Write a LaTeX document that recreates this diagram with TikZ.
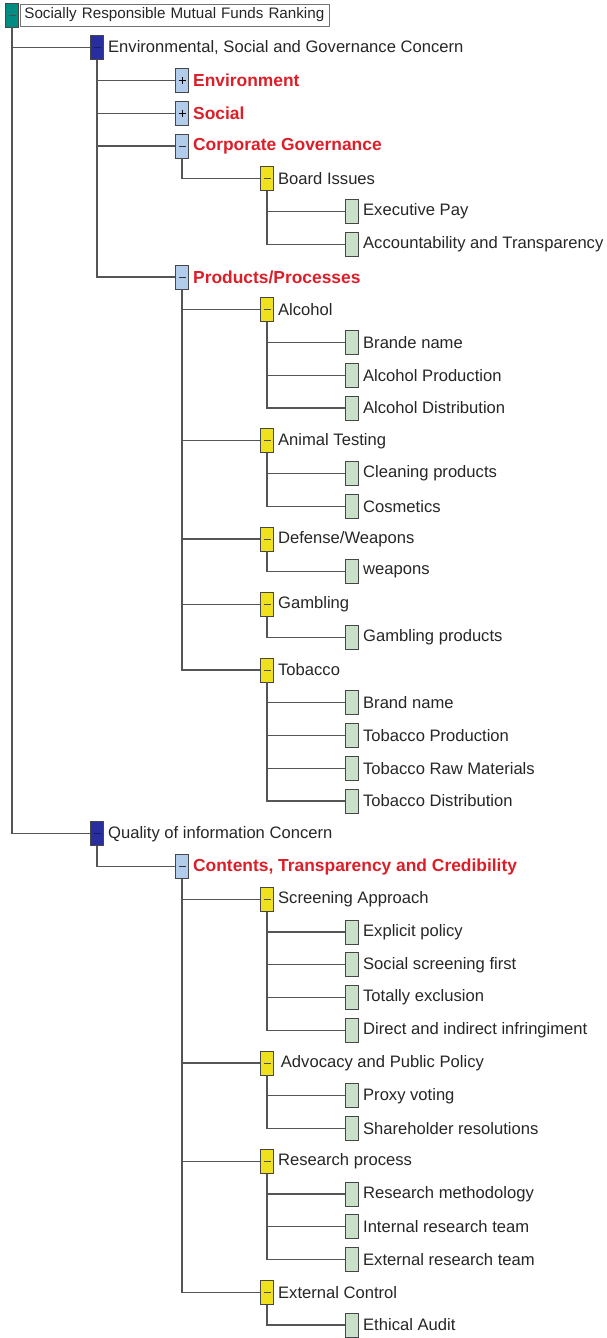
\documentclass[tikz,border=0pt]{standalone}
\usepackage{fontspec}
\setmainfont{Liberation Sans}
\definecolor{teal1}{RGB}{0,140,130}
\definecolor{navy1}{RGB}{40,45,160}
\definecolor{lblue}{RGB}{178,204,235}
\definecolor{yel}{RGB}{240,225,30}
\definecolor{grn}{RGB}{200,225,200}
\definecolor{redt}{RGB}{220,30,40}
\definecolor{lnc}{RGB}{85,85,85}
\definecolor{bdr}{RGB}{70,70,70}
\begin{document}
\begin{tikzpicture}[x=1pt,y=-1pt,
  bx/.style={draw=bdr,line width=0.9pt,minimum width=13pt,minimum height=24pt,inner sep=0pt},
  minus/.style={path picture={\draw[line width=0.8pt,#1]([xshift=-3.5pt]path picture bounding box.center)--([xshift=3.5pt]path picture bounding box.center);}},
  plus/.style={path picture={\draw[line width=0.8pt,black]([xshift=-3.5pt]path picture bounding box.center)--([xshift=3.5pt]path picture bounding box.center)
      ([yshift=-3.5pt]path picture bounding box.center)--([yshift=3.5pt]path picture bounding box.center);}},
  tealbox/.style={bx,fill=teal1,minus=black!70},
  navybox/.style={bx,fill=navy1,minus=navy1!60!black},
  bluebox/.style={bx,fill=lblue,minus=black!80},
  blueplus/.style={bx,fill=lblue,plus},
  yelbox/.style={bx,fill=yel,minus=black!70},
  grnbox/.style={bx,fill=grn},
  lbl/.style={inner sep=0pt,anchor=west,font=\fontsize{16.6}{19}\selectfont,text=black!85},
  redlbl/.style={lbl,font=\fontsize{17.4}{20}\selectfont\bfseries,text=redt},
  conn/.style={draw=lnc,line width=1.4pt}]
\useasboundingbox (0,0) rectangle (607,1338);
\newcommand\tn[6]{%
  \node[#4] (#1) at ({12+85*#2},{15+32.75*#3}) {};
  \node[#5] (#1t) at ([xshift=4pt]#1.east) {#6};}
% root
\node[tealbox] (r) at (12,15) {};
\node[draw=black!55,line width=0.9pt,anchor=west,minimum height=22pt,text width=301pt,inner xsep=4pt,inner ysep=0pt,align=left,font=\fontsize{15.2}{18}\selectfont,text=black!85] (rt) at ([xshift=1pt]r.east) {Socially Responsible Mutual Funds Ranking};
\tn{a}{1}{1}{navybox}{lbl}{Environmental, Social and Governance Concern}
\tn{a1}{2}{2}{blueplus}{redlbl}{Environment}
\tn{a2}{2}{3}{blueplus}{redlbl}{Social}
\tn{a3}{2}{4}{bluebox}{redlbl}{Corporate Governance}
\tn{a31}{3}{5}{yelbox}{lbl}{Board Issues}
\tn{a311}{4}{6}{grnbox}{lbl}{Executive Pay}
\tn{a312}{4}{7}{grnbox}{lbl}{Accountability and Transparency}
\tn{a4}{2}{8}{bluebox}{redlbl}{Products/Processes}
\tn{a41}{3}{9}{yelbox}{lbl}{Alcohol}
\tn{a411}{4}{10}{grnbox}{lbl}{Brande name}
\tn{a412}{4}{11}{grnbox}{lbl}{Alcohol Production}
\tn{a413}{4}{12}{grnbox}{lbl}{Alcohol Distribution}
\tn{a42}{3}{13}{yelbox}{lbl}{Animal Testing}
\tn{a421}{4}{14}{grnbox}{lbl}{Cleaning products}
\tn{a422}{4}{15}{grnbox}{lbl}{Cosmetics}
\tn{a43}{3}{16}{yelbox}{lbl}{Defense/Weapons}
\tn{a431}{4}{17}{grnbox}{lbl}{weapons}
\tn{a44}{3}{18}{yelbox}{lbl}{Gambling}
\tn{a441}{4}{19}{grnbox}{lbl}{Gambling products}
\tn{a45}{3}{20}{yelbox}{lbl}{Tobacco}
\tn{a451}{4}{21}{grnbox}{lbl}{Brand name}
\tn{a452}{4}{22}{grnbox}{lbl}{Tobacco Production}
\tn{a453}{4}{23}{grnbox}{lbl}{Tobacco Raw Materials}
\tn{a454}{4}{24}{grnbox}{lbl}{Tobacco Distribution}
\tn{b}{1}{25}{navybox}{lbl}{Quality of information Concern}
\tn{b1}{2}{26}{bluebox}{redlbl}{Contents, Transparency and Credibility}
\tn{b11}{3}{27}{yelbox}{lbl}{Screening Approach}
\tn{b111}{4}{28}{grnbox}{lbl}{Explicit policy}
\tn{b112}{4}{29}{grnbox}{lbl}{Social screening first}
\tn{b113}{4}{30}{grnbox}{lbl}{Totally exclusion}
\tn{b114}{4}{31}{grnbox}{lbl}{Direct and indirect infringiment}
\tn{b12}{3}{32}{yelbox}{lbl}{\,Advocacy and Public Policy}
\tn{b121}{4}{33}{grnbox}{lbl}{Proxy voting}
\tn{b122}{4}{34}{grnbox}{lbl}{Shareholder resolutions}
\tn{b13}{3}{35}{yelbox}{lbl}{Research process}
\tn{b131}{4}{36}{grnbox}{lbl}{Research methodology}
\tn{b132}{4}{37}{grnbox}{lbl}{Internal research team}
\tn{b133}{4}{38}{grnbox}{lbl}{External research team}
\tn{b14}{3}{39}{yelbox}{lbl}{External Control}
\tn{b141}{4}{40}{grnbox}{lbl}{Ethical Audit}
% connectors
\foreach \p/\c in {r/a,r/b,a/a1,a/a2,a/a3,a/a4,a3/a31,a31/a311,a31/a312,
  a4/a41,a4/a42,a4/a43,a4/a44,a4/a45,a41/a411,a41/a412,a41/a413,a42/a421,a42/a422,
  a43/a431,a44/a441,a45/a451,a45/a452,a45/a453,a45/a454,
  b/b1,b1/b11,b1/b12,b1/b13,b1/b14,b11/b111,b11/b112,b11/b113,b11/b114,
  b12/b121,b12/b122,b13/b131,b13/b132,b13/b133,b14/b141}
  \draw[conn] (\p.south) |- (\c.west);
\end{tikzpicture}
\end{document}
